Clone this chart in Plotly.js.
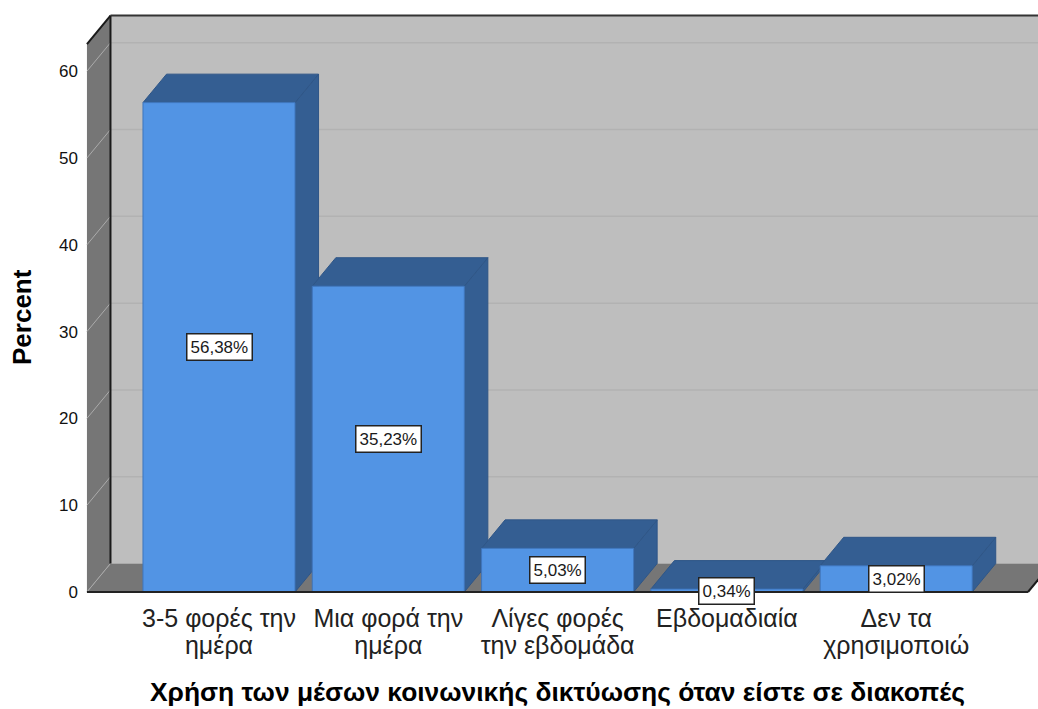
<!DOCTYPE html>
<html>
<head>
<meta charset="utf-8">
<script src="https://cdn.plot.ly/plotly-3.0.1.min.js"></script>
<style>html,body{margin:0;padding:0;background:#fff}#chart{width:1038px;height:709px}</style>
</head>
<body>
<div id="chart"></div>
<script>
// Usage of social media on holiday: share of respondents per answer
const categoryLine1 = ['3-5 φορές την', 'Μια φορά την', 'Λίγες φορές', 'Εβδομαδιαία', 'Δεν τα'];
const categoryLine2 = ['ημέρα', 'ημέρα', 'την εβδομάδα', '', 'χρησιμοποιώ'];
const percents = [56.38, 35.23, 5.03, 0.34, 3.02];
const yTicks = [0, 10, 20, 30, 40, 50, 60];
const positions = [0, 1, 2, 3, 4];

// Pseudo-3D box settings, in axis units
const barWidth = 0.898;
const depthX = 0.139;
const depthY = 3.28;
const wallLeft = -0.78;
const wallRight = 4.7785;
const wallTop = 63.13;
const xRange = [-0.7915, 4.8376];

const colors = {
  front: '#5294E4', shade: '#345E92', shadeEdge: '#2F5687', frontEdge: '#3F76BC',
  wall: '#BEBEBE', grid: '#B2B2B2', side: '#767676', sideGrid: '#ABABAB', edge: '#1A1A1A'
};

function poly(points, fill, lineColor, lineWidth, layer) {
  const path = 'M' + points.map(p => p[0] + ',' + p[1]).join('L') + 'Z';
  return {type: 'path', path, xref: 'x', yref: 'y', layer: layer || 'below', fillcolor: fill,
          line: {color: lineColor || fill, width: lineWidth === undefined ? 0 : lineWidth}};
}
function seg(x0, y0, x1, y1, color, width, layer) {
  return {type: 'line', xref: 'x', yref: 'y', x0, y0, x1, y1, layer: layer || 'below', line: {color, width}};
}

const shapes = [];
const backL = wallLeft + depthX, backR = wallRight + depthX;
// Back wall, left wall and floor
shapes.push(poly([[backL, depthY], [backR, depthY], [backR, wallTop + depthY], [backL, wallTop + depthY]], colors.wall));
shapes.push(poly([[wallLeft, 0], [backL, depthY], [backL, wallTop + depthY], [wallLeft, wallTop]], colors.side));
shapes.push(poly([[wallLeft, 0], [wallRight, 0], [backR, depthY], [backL, depthY]], colors.side));
// Gridlines wrap from the left wall onto the back wall
yTicks.forEach(t => {
  shapes.push(seg(wallLeft, t, backL, t + depthY, colors.sideGrid, 1));
  if (t > 0) shapes.push(seg(backL, t + depthY, backR, t + depthY, colors.grid, 1.5));
});
// Box edges
shapes.push(seg(backL, depthY, backL, wallTop + depthY, colors.edge, 2));
shapes.push(seg(backL, wallTop + depthY, backR, wallTop + depthY, '#333333', 2));
shapes.push(seg(wallLeft, wallTop, backL, wallTop + depthY, colors.edge, 2));
shapes.push(seg(wallRight, 0, backR, depthY, colors.edge, 2));
// Side and top faces of each bar
percents.forEach((v, i) => {
  const l = positions[i] - barWidth / 2, r = positions[i] + barWidth / 2;
  shapes.push(poly([[r, 0], [r + depthX, depthY], [r + depthX, v + depthY], [r, v]], colors.shade, colors.shadeEdge, 1));
  shapes.push(poly([[l, v], [r, v], [r + depthX, v + depthY], [l + depthX, v + depthY]], colors.shade, colors.shadeEdge, 1));
});
// Front baseline
shapes.push(seg(wallLeft, 0, wallRight, 0, '#222222', 2, 'above'));

const M = {l: 85, r: 0, t: 12, b: 114};
const pageX = px => (px - M.l) / (1038 - M.l - M.r);
const pageY = py => 1 - (py - M.t) / (709 - M.t - M.b);

const annotations = percents.map((v, i) => ({
  x: positions[i], y: v / 2, xref: 'x', yref: 'y', showarrow: false,
  text: v.toFixed(2).replace('.', ',') + '%',
  font: {family: 'Liberation Sans', size: 17, color: '#1a1a1a'},
  bgcolor: '#FFFFFF', bordercolor: '#222222', borderwidth: 1.5, borderpad: 3
}));
annotations.push({
  x: pageX(557), y: pageY(692), xref: 'paper', yref: 'paper', xanchor: 'center', yanchor: 'middle',
  showarrow: false,
  text: '<b>Χρήση των μέσων κοινωνικής δικτύωσης όταν είστε σε διακοπές</b>',
  font: {family: 'Liberation Sans', size: 26.4, color: '#000'}
});
annotations.push({
  x: pageX(22), y: pageY(317), xref: 'paper', yref: 'paper', xanchor: 'center', yanchor: 'middle',
  showarrow: false, textangle: -90,
  text: '<b>Percent</b>',
  font: {family: 'Liberation Sans', size: 26, color: '#000'}
});

const bars = {
  type: 'bar', x: positions, y: percents, width: barWidth,
  marker: {color: colors.front, line: {color: colors.frontEdge, width: 1}},
  hoverinfo: 'skip'
};
// Carries the overlaid axis that prints the second line of each category label
const secondLineCarrier = {
  type: 'scatter', mode: 'none', x: positions, y: percents, xaxis: 'x2', yaxis: 'y',
  hoverinfo: 'skip', showlegend: false
};

const catFont = {family: 'Liberation Sans', size: 25, color: '#222'};
const layout = {
  width: 1038, height: 709, margin: M,
  paper_bgcolor: '#fff', plot_bgcolor: '#fff',
  showlegend: false, bargap: 0, shapes, annotations,
  xaxis: {
    range: xRange, tickmode: 'array', tickvals: positions, ticktext: categoryLine1,
    showgrid: false, zeroline: false, showline: false, ticks: '', ticklabelstandoff: 6,
    tickfont: catFont, fixedrange: true
  },
  xaxis2: {
    range: xRange, overlaying: 'x', anchor: 'y', side: 'bottom', tickmode: 'array',
    tickvals: positions, ticktext: categoryLine2,
    showgrid: false, zeroline: false, showline: false, ticks: '', ticklabelstandoff: 33,
    tickfont: catFont, fixedrange: true
  },
  yaxis: {
    range: [-0.346, 66.82], tickmode: 'array', tickvals: yTicks, ticktext: yTicks.map(String),
    showgrid: false, zeroline: false, showline: false, ticks: '', ticklabelstandoff: 6,
    tickfont: {family: 'Liberation Sans', size: 17, color: '#111'}, fixedrange: true
  }
};

Plotly.newPlot('chart', [bars, secondLineCarrier], layout, {displayModeBar: false, staticPlot: true});
</script>
</body>
</html>
